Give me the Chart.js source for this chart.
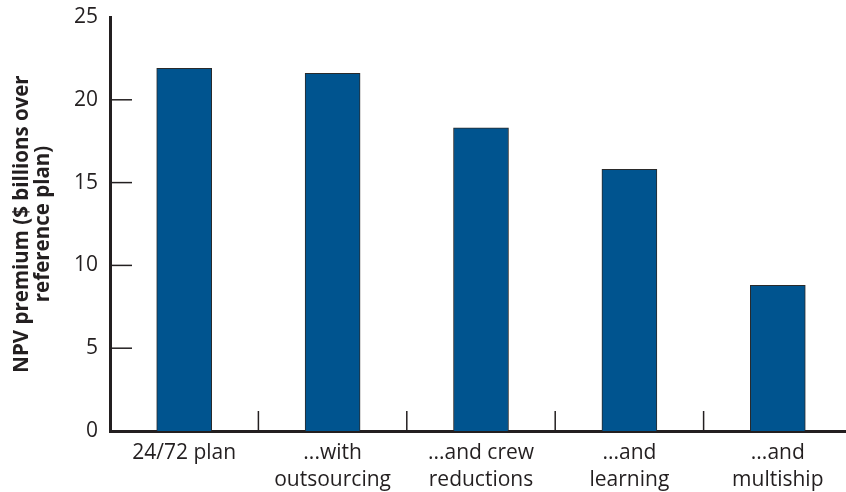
<!DOCTYPE html>
<html>
<head>
<meta charset="utf-8">
<script src="https://cdn.jsdelivr.net/npm/chart.js@4"></script>
<style>
  html, body { margin: 0; padding: 0; background: #fff; overflow: hidden; }
  #wrap { width: 852px; height: 492px; }
</style>
</head>
<body>
<div id="wrap"><canvas id="grafico" width="852" height="492"></canvas></div>
<script>
const categorias = [
  "24/72 plan",
  ["...with", "outsourcing"],
  ["...and crew", "reductions"],
  ["...and", "learning"],
  ["...and", "multiship"]
];
const valores = [21.9, 21.6, 18.3, 15.8, 8.8];
const ticksY = [0, 5, 10, 15, 20, 25];
const tituloY = ["NPV premium ($ billions over", "reference plan)"];

const corTexto = "#231f20";

// marcas curtas para dentro do grafico
const marcasInternas = {
  id: "marcasInternas",
  afterDraw(chart) {
    const ctx = chart.ctx;
    const area = chart.chartArea;
    const x = chart.scales.x;
    const y = chart.scales.y;
    ctx.save();
    ctx.strokeStyle = corTexto;
    ctx.lineWidth = 1.5;
    ticksY.forEach(v => {
      if (v === 0 || v === 25) return;
      const py = y.getPixelForValue(v);
      ctx.beginPath();
      ctx.moveTo(area.left, py);
      ctx.lineTo(area.left + 22, py);
      ctx.stroke();
    });
    for (let i = 1; i < categorias.length; i++) {
      const px = (x.getPixelForValue(i - 1) + x.getPixelForValue(i)) / 2;
      ctx.beginPath();
      ctx.moveTo(px, area.bottom);
      ctx.lineTo(px, area.bottom - 20);
      ctx.stroke();
    }
    ctx.restore();
  }
};

new Chart(document.getElementById("grafico").getContext("2d"), {
  type: "bar",
  data: {
    labels: categorias,
    datasets: [{
      data: valores,
      backgroundColor: "#00548f",
      borderColor: "#2a2a2a",
      borderWidth: 1,
      barThickness: 55
    }]
  },
  options: {
    responsive: false,
    animation: false,
    layout: { padding: 0 },
    plugins: {
      legend: { display: false },
      tooltip: { enabled: false }
    },
    scales: {
      x: {
        grid: { display: false, drawTicks: false },
        border: { display: true, color: corTexto, width: 3 },
        ticks: {
          color: corTexto,
          padding: 8,
          maxRotation: 0,
          autoSkip: false,
          font: { family: "Open Sans", size: 21, lineHeight: 1.3 }
        },
        afterFit(scale) { scale.height = 61; }
      },
      y: {
        min: 0,
        max: 25,
        grid: { display: false, drawTicks: false },
        border: { display: true, color: corTexto, width: 3 },
        ticks: {
          stepSize: 5,
          color: corTexto,
          padding: 12,
          font: { family: "Open Sans", size: 21 }
        },
        title: {
          display: true,
          text: tituloY,
          color: corTexto,
          padding: { top: 11, bottom: 4 },
          font: { family: "Open Sans", size: 20.5, weight: "bold", lineHeight: 1.05 }
        },
        afterFit(scale) {
          scale.width = 110;
          scale.paddingTop = 17;
          scale.paddingBottom = 0;
        }
      }
    }
  },
  plugins: [marcasInternas]
});
</script>
</body>
</html>
